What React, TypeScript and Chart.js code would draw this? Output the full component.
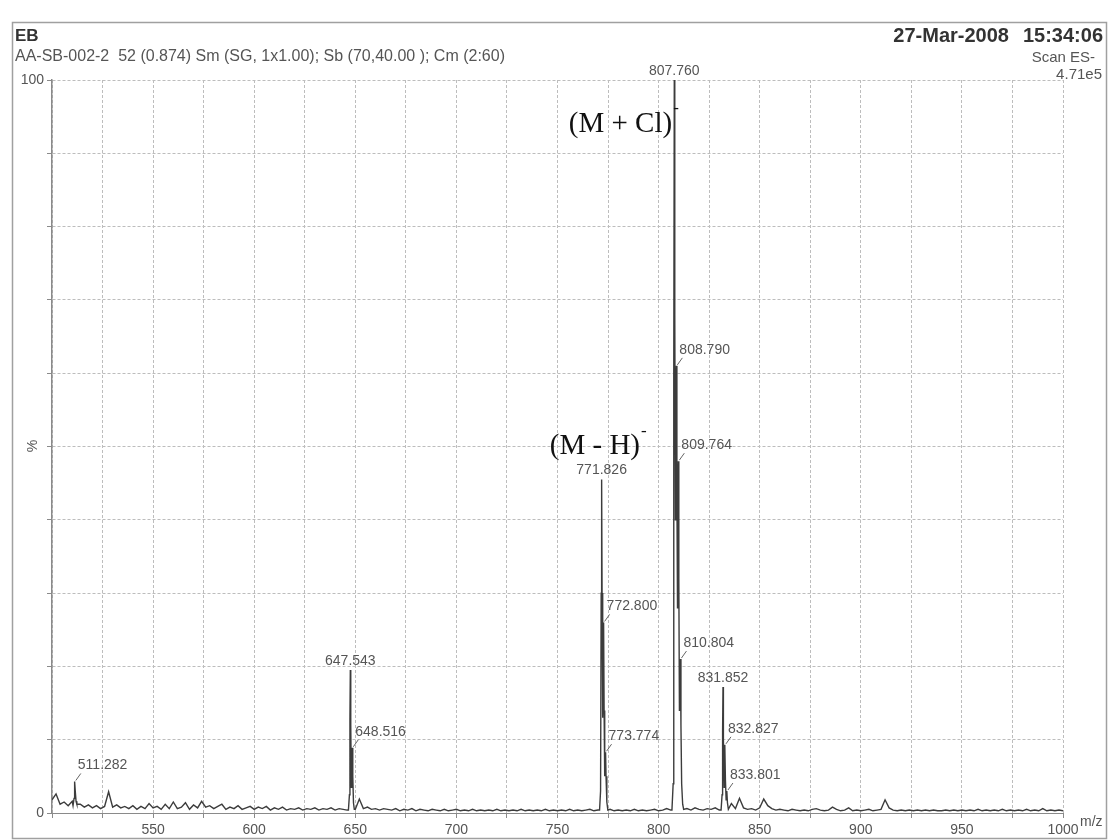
import React, { useEffect, useRef } from 'react';
import { Chart, registerables } from 'chart.js';

Chart.register(...registerables);

// ---------- header texts ----------
const headerTitle = 'EB';
const headerSubtitle = 'AA-SB-002-2  52 (0.874) Sm (SG, 1x1.00); Sb (70,40.00 ); Cm (2:60)';
const headerDate = '27-Mar-2008';
const headerTime = '15:34:06';
const scanText = 'Scan ES-';
const scaleText = '4.71e5';
const xAxisTitle = 'm/z';
const yAxisTitle = '%';

// ---------- axes ----------
const xMin = 500;
const xMax = 1000;
const xStep = 25;
const xLabelled = [550, 600, 650, 700, 750, 800, 850, 900, 950, 1000];
const yMin = 0;
const yMax = 100;
const yStep = 10;
const yLabelled = [0, 100];

// ---------- baseline noise (% intensity, sampled every 2 m/z from 500) ----------
const noiseStartMz = 500;
const noiseStepMz = 2;
const noiseIntensity = [
  1.8, 2.6, 1.2, 1.5, 1.0, 1.6, 1.8, 1.2, 0.8, 1.1,
  0.7, 1.0, 0.6, 0.9, 2.9, 0.8, 1.1, 0.7, 0.9, 0.6,
  1.0, 0.5, 0.9, 0.6, 1.3, 0.7, 0.9, 0.5, 1.2, 0.6,
  1.5, 0.6, 0.8, 1.4, 0.5, 1.1, 0.7, 1.6, 0.8, 1.0,
  0.6, 0.9, 1.2, 0.5, 0.8, 0.6, 1.0, 0.5, 0.7, 0.9,
  0.5, 0.8, 0.6, 0.9, 0.4, 0.7, 0.5, 0.8, 0.4, 0.6,
  0.5, 0.7, 0.4, 0.6, 0.5, 0.7, 0.4, 0.6, 0.5, 0.7,
  0.4, 0.6, 0.5, 0.4, 0.3, 0.5, 1.9, 0.6, 0.8, 0.5,
  0.6, 0.4, 0.6, 0.5, 0.4, 0.6, 0.3, 0.5, 0.4, 0.6,
  0.3, 0.5, 0.4, 0.3, 0.5, 0.4, 0.3, 0.5, 0.3, 0.4,
  0.5, 0.3, 0.4, 0.3, 0.5, 0.3, 0.4, 0.3, 0.4, 0.3,
  0.5, 0.3, 0.4, 0.3, 0.4, 0.3, 0.5, 0.3, 0.4, 0.3,
  0.4, 0.3, 0.5, 0.3, 0.4, 0.3, 0.4, 0.3, 0.5, 0.3,
  0.4, 0.3, 0.4, 0.5, 0.3, 0.4, 0.3, 0.4, 0.5, 0.3,
  0.4, 0.3, 0.4, 0.3, 0.5, 0.3, 0.4, 0.3, 0.4, 0.5,
  0.3, 0.4, 0.6, 0.4, 0.3, 0.4, 0.5, 0.6, 0.4, 0.7,
  0.5, 0.4, 0.6, 0.5, 0.7, 0.4, 0.3, 0.6, 1.3, 0.6,
  2.0, 0.7, 0.5, 0.6, 0.4, 0.7, 1.9, 1.0, 0.6, 0.4,
  0.5, 0.4, 0.3, 0.5, 0.4, 0.3, 0.4, 0.3, 0.5, 0.6,
  0.4, 0.3, 0.4, 0.8, 0.5, 0.3, 0.4, 0.7, 0.3, 0.4,
  0.3, 0.4, 0.5, 0.3, 0.4, 0.5, 1.8, 0.7, 0.4, 0.3,
  0.4, 0.3, 0.4, 0.3, 0.4, 0.3, 0.4, 0.3, 0.4, 0.3,
  0.3, 0.4, 0.3, 0.4, 0.3, 0.4, 0.3, 0.4, 0.3, 0.5,
  0.3, 0.4, 0.3, 0.4, 0.3, 0.5, 0.3, 0.4, 0.3, 0.4,
  0.3, 0.5, 0.3, 0.4, 0.3, 0.6, 0.3, 0.4, 0.3, 0.4,
  0.3,
];

// ---------- peak clusters (m/z, % intensity) ----------
const cluster511Mz = [510.4, 510.9, 511.1, 511.282, 511.5, 511.9, 512.3];
const cluster511Int = [1.0, 2.0, 3.6, 4.3, 3.0, 1.6, 1.2];

const cluster647Mz = [646.6, 647.1, 647.35, 647.543, 647.75, 648.05, 648.3, 648.516, 648.75, 649.1, 649.5];
const cluster647Int = [0.4, 2.5, 13, 19.5, 12, 3.5, 6.5, 8.9, 5, 1.4, 0.5];

const cluster771Mz = [770.8, 771.3, 771.6, 771.826, 772.05, 772.35, 772.6, 772.8, 773.05, 773.35, 773.6, 773.774, 774.0, 774.4, 774.9];
const cluster771Int = [0.4, 3, 30, 45.5, 30, 13, 20, 26, 14, 5, 7, 8.3, 5, 1.5, 0.4];

const cluster807Mz = [806.6, 807.2, 807.5, 807.76, 808.0, 808.3, 808.55, 808.79, 809.05, 809.35, 809.55, 809.764, 810.0, 810.3, 810.55, 810.804, 811.05, 811.4, 811.9, 812.4];
const cluster807Int = [0.4, 4, 60, 100, 68, 40, 52, 61, 44, 28, 40, 48, 32, 14, 17, 21, 12, 4, 1.2, 0.5];

const cluster831Mz = [830.9, 831.4, 831.65, 831.852, 832.05, 832.4, 832.65, 832.827, 833.05, 833.4, 833.65, 833.801, 834.05, 834.5];
const cluster831Int = [0.4, 2.5, 11, 17.2, 10, 3.5, 7.5, 9.3, 4.5, 1.8, 2.5, 3.0, 1.4, 0.5];

// ---------- peak labels ----------
const labelledPeaks = [807.76, 808.79, 809.764, 771.826, 772.8, 773.774, 810.804, 831.852, 832.827, 833.801, 647.543, 648.516, 511.282];
const labelBesidePeak = [false, true, true, false, true, true, true, false, true, true, false, true, true];

// ---------- ion annotations ----------
const ionMain = ['(M + Cl)', '(M - H)'];
const ionCharge = ['-', '-'];
const ionAnchorMz = [806.7, 790.8];
const ionAnchorPct = [94, 50];

const clusters = [
  [cluster511Mz, cluster511Int],
  [cluster647Mz, cluster647Int],
  [cluster771Mz, cluster771Int],
  [cluster807Mz, cluster807Int],
  [cluster831Mz, cluster831Int],
];

function buildSpectrum() {
  const pts: { x: number; y: number }[] = [];
  noiseIntensity.forEach((v, i) => {
    const mz = noiseStartMz + i * noiseStepMz;
    const inside = clusters.some(([mzs]) => mz >= mzs[0] && mz <= mzs[mzs.length - 1]);
    if (!inside) pts.push({ x: mz, y: v });
  });
  clusters.forEach(([mzs, ints]) => {
    mzs.forEach((m, i) => pts.push({ x: m, y: ints[i] }));
  });
  pts.sort((a, b) => a.x - b.x);
  return pts;
}

const SANS = '"Liberation Sans", Arial, Helvetica, sans-serif';
const SERIF = '"Liberation Serif", "Times New Roman", serif';

export default function App() {
  const canvasRef = useRef<HTMLCanvasElement | null>(null);

  useEffect(() => {
    const canvas = canvasRef.current;
    if (!canvas) return;
    const spectrum = buildSpectrum();

    const overlay = {
      id: 'overlay',
      beforeDraw(chart: any) {
        const ctx = chart.ctx as CanvasRenderingContext2D;
        ctx.save();
        ctx.fillStyle = '#ffffff';
        ctx.fillRect(0, 0, chart.width, chart.height);
        ctx.strokeStyle = '#a0a0a0';
        ctx.lineWidth = 1.5;
        ctx.strokeRect(12.5, 22.5, 1094, 816);

        ctx.textBaseline = 'middle';
        ctx.fillStyle = '#333';
        ctx.font = `bold 17px ${SANS}`;
        ctx.textAlign = 'left';
        ctx.fillText(headerTitle, 15, 36);
        ctx.font = `bold 20px ${SANS}`;
        ctx.textAlign = 'right';
        ctx.fillText(headerTime, 1103, 36);
        const tw = ctx.measureText(headerTime).width;
        ctx.fillText(headerDate, 1103 - tw - 14, 36);

        ctx.fillStyle = '#555';
        ctx.font = `16px ${SANS}`;
        ctx.textAlign = 'left';
        ctx.fillText(headerSubtitle, 15, 57);
        ctx.font = `15px ${SANS}`;
        ctx.textAlign = 'right';
        ctx.fillText(scanText, 1095, 58);
        ctx.fillText(scaleText, 1102, 75);

        ctx.font = `14px ${SANS}`;
        ctx.textAlign = 'left';
        ctx.fillText(xAxisTitle, 1080, 822);

        ctx.save();
        ctx.translate(33, 446);
        ctx.rotate(-Math.PI / 2);
        ctx.textAlign = 'center';
        ctx.fillText(yAxisTitle, 0, 0);
        ctx.restore();
        ctx.restore();
      },
      afterDatasetsDraw(chart: any) {
        const ctx = chart.ctx as CanvasRenderingContext2D;
        const xs = chart.scales.x;
        const ys = chart.scales.y;
        ctx.save();
        ctx.font = `14px ${SANS}`;
        ctx.fillStyle = '#555';
        ctx.strokeStyle = '#666';
        ctx.lineWidth = 1;
        ctx.textBaseline = 'middle';
        labelledPeaks.forEach((mz, i) => {
          const pt = spectrum.find((p) => Math.abs(p.x - mz) < 0.0005);
          if (!pt) return;
          const px = xs.getPixelForValue(pt.x);
          const py = ys.getPixelForValue(pt.y);
          const txt = mz.toFixed(3);
          if (labelBesidePeak[i]) {
            ctx.textAlign = 'left';
            ctx.fillText(txt, px + 3, py - 16);
            ctx.beginPath();
            ctx.moveTo(px + 6, py - 8);
            ctx.lineTo(px + 1, py - 1);
            ctx.stroke();
          } else {
            ctx.textAlign = 'center';
            ctx.fillText(txt, px, py - 9);
          }
        });

        ctx.fillStyle = '#111';
        ionMain.forEach((t, i) => {
          const ax = xs.getPixelForValue(ionAnchorMz[i]);
          const ay = ys.getPixelForValue(ionAnchorPct[i]);
          ctx.font = `29px ${SERIF}`;
          ctx.textAlign = 'right';
          ctx.fillText(t, ax, ay);
          ctx.font = `17px ${SERIF}`;
          ctx.textAlign = 'left';
          ctx.fillText(ionCharge[i], ax + 1, ay - 15);
        });
        ctx.restore();
      },
    };

    const chart = new Chart(canvas, {
      type: 'line',
      data: {
        datasets: [
          {
            data: spectrum,
            borderColor: '#3c3c3c',
            borderWidth: 1.4,
            pointRadius: 0,
            tension: 0,
            fill: false,
          },
        ],
      },
      options: {
        responsive: false,
        animation: false,
        devicePixelRatio: 1,
        parsing: false,
        normalized: true,
        layout: { padding: { left: 0, top: 80, right: 48, bottom: 0 } },
        plugins: {
          legend: { display: false },
          tooltip: { enabled: false },
        },
        scales: {
          x: {
            type: 'linear',
            min: xMin,
            max: xMax,
            afterFit: (s: any) => {
              s.height = 27;
            },
            border: { display: true, color: '#8a8a8a', width: 1, dash: [3, 2] },
            grid: { color: '#bdbdbd', lineWidth: 1, tickLength: 5, tickColor: '#8a8a8a' },
            ticks: {
              stepSize: xStep,
              autoSkip: false,
              maxRotation: 0,
              padding: 4,
              color: '#555',
              font: { family: SANS, size: 14 },
              callback: (v: any) => (xLabelled.includes(Number(v)) ? String(v) : ''),
            },
          },
          y: {
            min: yMin,
            max: yMax,
            afterFit: (s: any) => {
              s.width = 52;
            },
            border: { display: true, color: '#8a8a8a', width: 1.5, dash: [3, 2] },
            grid: { color: '#bdbdbd', lineWidth: 1, tickLength: 5, tickColor: '#8a8a8a' },
            ticks: {
              stepSize: yStep,
              padding: 3,
              color: '#555',
              font: { family: SANS, size: 14 },
              callback: (v: any) => (yLabelled.includes(Number(v)) ? String(v) : ''),
            },
          },
        },
      },
      plugins: [overlay],
    } as any);

    return () => chart.destroy();
  }, []);

  return (
    <div style={{ position: 'absolute', left: 0, top: 0, width: 1111, height: 840, background: '#fff' }}>
      <canvas ref={canvasRef} width={1111} height={840} style={{ width: 1111, height: 840, display: 'block' }} />
    </div>
  );
}
